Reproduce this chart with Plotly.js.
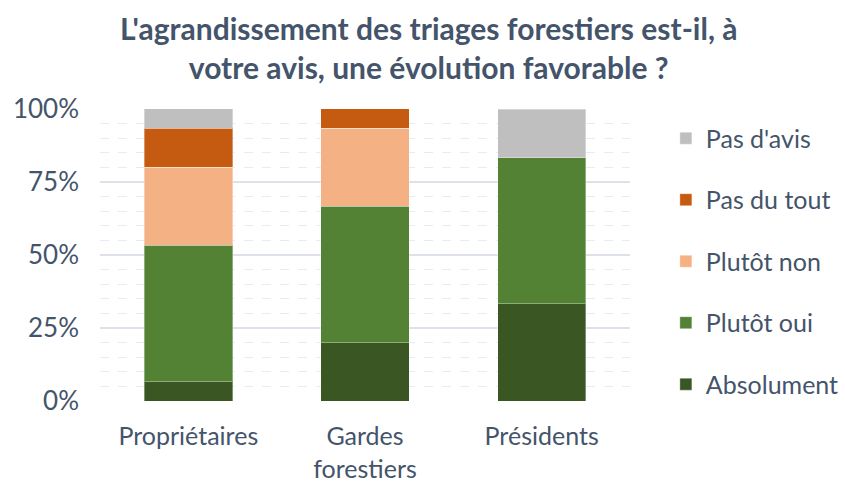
<!DOCTYPE html>
<html><head><meta charset="utf-8">
<script src="https://cdn.plot.ly/plotly-3.0.1.min.js"></script>
<style>html,body{margin:0;padding:0;background:#fff}#chart{width:845px;height:481px}</style>
</head><body><div id="chart"></div>
<script>
const categories = ["Propriétaires", "Gardes<br>forestiers", "Présidents"];
const seriesNames = ["Absolument", "Plutôt oui", "Plutôt non", "Pas du tout", "Pas d'avis"];
const absolument = [0.0667, 0.2, 0.3333];
const plutotOui = [0.4667, 0.4667, 0.5];
const plutotNon = [0.2667, 0.2667, 0];
const pasDuTout = [0.1333, 0.0667, 0];
const pasDavis = [0.0667, 0, 0.1667];
const yTickVals = [0, 0.25, 0.5, 0.75, 1];
const yTickText = ["0%", "25%", "50%", "75%", "100%"];
const titleText = "<b>L'agrandissement des triages forestiers est-il, à<br>votre avis, une évolution favorable ?</b>";

const colors = ["#3A5623", "#548235", "#F4B183", "#C55A11", "#BFBFBF"];
const values = [absolument, plutotOui, plutotNon, pasDuTout, pasDavis];
const font = "Lato, 'Open Sans', sans-serif";
const txt = "#44546A";

const data = values.map((v, i) => ({
  type: "bar", x: categories, y: v, name: seriesNames[i],
  legendgroup: "g" + i, legendrank: 10 - i,
  marker: {color: colors[i], line: {color: "rgba(255,255,255,0.35)", width: 1}},
  hoverinfo: "skip"
}));

const layout = {
  width: 845, height: 481,
  margin: {l: 100, r: 215, t: 109, b: 80},
  paper_bgcolor: "#fff", plot_bgcolor: "#fff",
  barmode: "stack", bargap: 0.5,
  font: {family: font, color: txt, size: 26},
  annotations: [{text: titleText, xref: "paper", yref: "paper", x: 0.62, y: 1.21,
    xanchor: "center", yanchor: "middle", showarrow: false,
    font: {family: font, size: 30, color: txt}}],
  xaxis: {showline: false, showgrid: false, ticks: "", tickfont: {size: 25, color: txt},
    ticklabelstandoff: 18, automargin: false},
  yaxis: {range: [0, 1], tickvals: yTickVals, ticktext: yTickText, showline: false, zeroline: false,
    gridcolor: "#DDE1E8", gridwidth: 1.5, ticks: "", ticklabelstandoff: 20, automargin: false,
    tickfont: {size: 26, color: txt},
    minor: {dtick: 0.05, showgrid: true, gridcolor: "#E8EBEF", griddash: "dash", gridwidth: 1}},
  legend: {xref: "container", yref: "container", x: 0.788, xanchor: "left", y: 0.76, yanchor: "top",
    traceorder: "grouped", tracegroupgap: 26, font: {size: 25, color: txt}, itemwidth: 30,
    borderwidth: 0, maxheight: 420}
};
Plotly.newPlot("chart", data, layout, {staticPlot: true});
</script></body></html>
